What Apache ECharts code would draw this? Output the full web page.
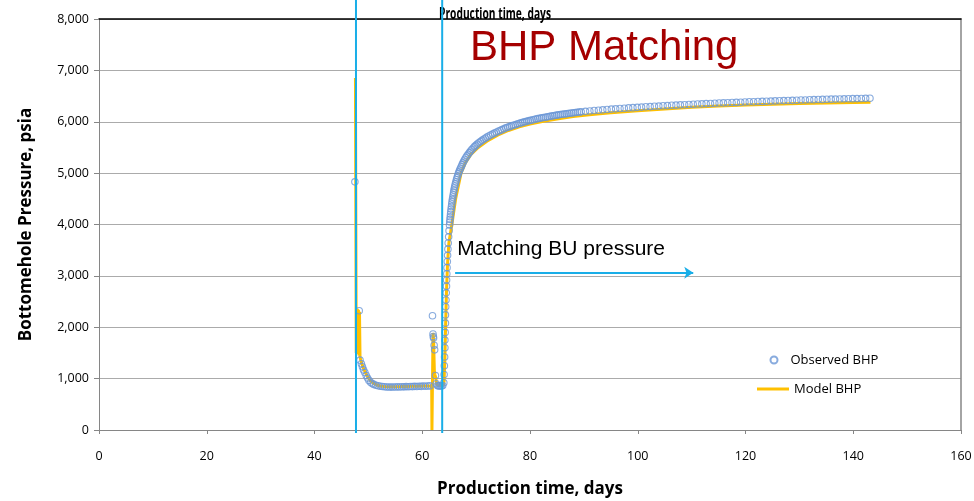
<!DOCTYPE html>
<html>
<head>
<meta charset="utf-8">
<script src="https://cdn.jsdelivr.net/npm/echarts@6/dist/echarts.min.js"></script>
<style>
  html, body { margin: 0; padding: 0; background: #fff; }
  #chart { width: 974px; height: 501px; }
</style>
</head>
<body>
<div id="chart"></div>
<script>
// Observed bottomhole pressure gauge readings (days, psia)
const obsDays = [
  47.5, 48.3, 48.45, 48.7, 48.9, 49.1, 49.35, 49.6, 49.85, 50.1, 50.4, 50.7, 51.0, 51.4, 51.8,
  52.2, 52.6, 53.0, 53.4, 53.8, 54.2, 54.6, 55.0, 55.4, 55.8, 56.2, 56.6, 57.0, 57.4, 57.8,
  58.2, 58.6, 59.0, 59.4, 59.8, 60.2, 60.6, 61.0, 61.4,
  61.9, 62.0, 62.05, 62.1, 62.2, 62.3, 62.45, 62.6, 62.8, 63.0, 63.2, 63.4, 63.6, 63.8,
  64.0, 64.05, 64.1, 64.15, 64.2, 64.2, 64.25, 64.3, 64.3, 64.35, 64.4, 64.45, 64.5, 64.52,
  64.56, 64.6, 64.65, 64.7, 64.76, 64.82, 64.9, 64.98,
  65.06, 65.1, 65.15, 65.2, 65.25, 65.3, 65.36, 65.42, 65.48, 65.54, 65.6, 65.68, 65.75,
  65.82, 65.9, 65.97, 66.05, 66.15, 66.25, 66.35, 66.45, 66.57, 66.7, 66.82, 66.95, 67.1,
  67.25, 67.4, 67.55, 67.72, 67.9, 68.1, 68.3, 68.52, 68.75, 68.97, 69.2, 69.45, 69.7,
  69.95, 70.2, 70.5, 70.8, 71.1, 71.4, 71.7, 72.0, 72.35, 72.7, 73.05, 73.4, 73.75, 74.1,
  74.45, 74.8, 75.15, 75.5, 75.85, 76.2, 76.55, 76.9, 77.25, 77.6, 77.95, 78.3, 78.65,
  79.0, 79.35, 79.7, 80.05, 80.4, 80.75, 81.1, 81.45, 81.8, 82.15, 82.5, 82.85, 83.2,
  83.55, 83.9, 84.25, 84.6, 84.95, 85.3, 85.65, 86.0, 86.35, 86.7, 87.05, 87.4, 87.75,
  88.1, 88.45, 88.8, 89.15,
  89.5, 90.3, 91.1, 91.9, 92.7, 93.5, 94.3, 95.1, 95.9, 96.7, 97.5, 98.3, 99.1, 99.9, 100.7,
  101.5, 102.3, 103.1, 103.9, 104.7, 105.5, 106.3, 107.1, 107.9, 108.7, 109.5, 110.3, 111.1,
  111.9, 112.7, 113.5, 114.3, 115.1, 115.9, 116.7, 117.5, 118.3, 119.1, 119.9, 120.7, 121.5,
  122.3, 123.1, 123.9, 124.7, 125.5, 126.3, 127.1, 127.9, 128.7, 129.5, 130.3, 131.1, 131.9,
  132.7, 133.5, 134.3, 135.1, 135.9, 136.7, 137.5, 138.3, 139.1, 139.9, 140.7, 141.5, 142.3,
  143.1
];
const obsPsi = [
  4830, 2320, 1360, 1290, 1230, 1170, 1120, 1060, 1010, 965, 930, 905, 888, 872, 860,
  852, 846, 842, 838, 836, 835, 838, 836, 840, 838, 842, 840, 845, 843, 847,
  845, 850, 848, 852, 850, 855, 853, 856, 858,
  2225, 1870, 1820, 1790, 1650, 1560, 1060, 900, 865, 858, 855, 860, 857, 865,
  920, 1080, 1250, 1420, 1600, 1750, 1900, 2080, 2240, 2400, 2530, 2670, 2800, 2920,
  3040, 3160, 3280, 3400, 3520, 3640, 3760, 3880,
  3990, 4050, 4100, 4150, 4200, 4250, 4300, 4350, 4400, 4445, 4490, 4535, 4580,
  4625, 4670, 4710, 4750, 4790, 4830, 4870, 4910, 4950, 4990, 5025, 5060, 5095,
  5130, 5165, 5200, 5235, 5270, 5303, 5335, 5368, 5400, 5430, 5460, 5488, 5515,
  5540, 5565, 5590, 5615, 5638, 5660, 5680, 5700, 5722, 5742, 5760, 5778, 5797, 5815,
  5830, 5846, 5863, 5880, 5892, 5905, 5919, 5932, 5943, 5954, 5966, 5978, 5988,
  5998, 6008, 6018, 6026, 6034, 6044, 6053, 6060, 6068, 6076, 6083, 6089, 6095,
  6103, 6110, 6115, 6121, 6128, 6134, 6140, 6146, 6150, 6154, 6160, 6166, 6171,
  6176, 6181, 6185, 6189,
  6193, 6202, 6208, 6218, 6224, 6232, 6238, 6246, 6251, 6258, 6263, 6270, 6274, 6280, 6285,
  6291, 6295, 6301, 6305, 6311, 6314, 6320, 6323, 6329, 6332, 6337, 6341, 6345,
  6348, 6353, 6356, 6361, 6364, 6368, 6370, 6375, 6377, 6381, 6384, 6388, 6390,
  6394, 6396, 6400, 6402, 6406, 6408, 6412, 6413, 6417, 6419, 6423, 6424, 6428,
  6430, 6433, 6435, 6437, 6440, 6441, 6444, 6446, 6448, 6450, 6451, 6453, 6455,
  6456
];

// Simulated (history-matched) bottomhole pressure (days, psia)
const modelDays = [
  47.6, 47.75, 47.95, 48.05, 48.15, 48.25, 48.35, 48.45, 48.6, 48.8, 49.0, 49.3, 49.6, 49.9,
  50.2, 50.6, 51.0, 51.5, 52.0, 52.5, 53.0, 54.0, 55.0, 56.0, 57.0, 58.0, 59.0, 60.0, 61.0,
  61.75, 61.8, 61.95, 62.0, 62.1, 62.25, 62.35, 62.5, 62.7, 63.0, 63.5, 63.9,
  64.05, 64.2, 64.35, 64.5, 64.7, 64.95, 65.5, 66.2, 67.2, 68.0, 69.0, 70.4, 72.0, 74.0,
  76.0, 78.0, 80.0, 82.5, 85.0, 88.0, 91.0, 95.0, 100.0, 105.0, 110.0, 115.0, 120.0,
  125.0, 130.0, 135.0, 140.0, 143.2
];
const modelPsi = [
  6850, 1500, 2360, 1480, 2340, 1450, 2300, 1420, 1360, 1290, 1225, 1150, 1085, 1030,
  985, 940, 908, 880, 862, 852, 846, 842, 843, 845, 848, 850, 852, 855, 857,
  860, 0, 0, 1890, 1760, 1150, 1080, 1020, 880, 860, 858, 870,
  950, 1400, 2100, 2700, 3250, 3650, 4000, 4500, 5000, 5200, 5360, 5500, 5620, 5740,
  5830, 5900, 5955, 6010, 6055, 6100, 6135, 6175, 6215, 6250, 6280, 6305, 6325,
  6342, 6356, 6367, 6376, 6380
];

// Shut-in / reopen event times (vertical markers)
const eventDays = [47.7, 63.7];
// Build-up annotation arrow: start day, end day, pressure level
const arrowFrom = 66.1, arrowTo = 110.3, arrowPsi = 3060;
const arrowNote = 'Matching BU pressure';
const noteDay = 66.5, notePsi = 3520;

const xTicks = { min: 0, max: 160, interval: 20 };
const yTicks = { min: 0, max: 8000, interval: 1000 };

const FONT = '"Open Sans", "Liberation Sans", sans-serif';
const ARIAL = '"Liberation Sans", Arial, sans-serif';
const CYAN = '#19aee8';

const chart = echarts.init(document.getElementById('chart'), null, { renderer: 'canvas' });

const obsData = obsDays.map((d, i) => [d, obsPsi[i]]);
const modelData = modelDays.map((d, i) => [d, modelPsi[i]]);

const fmt = v => v.toLocaleString('en-US');

chart.setOption({
  animation: false,
  backgroundColor: '#fff',
  grid: { left: 99, right: 13, top: 19, bottom: 71, containLabel: false, outerBoundsMode: 'none' },
  xAxis: [
    {
      type: 'value', position: 'bottom',
      min: xTicks.min, max: xTicks.max, interval: xTicks.interval,
      name: 'Production time, days', nameLocation: 'middle', nameGap: 51,
      nameTextStyle: { fontFamily: FONT, fontWeight: 'bold', fontSize: 17, color: '#000' },
      axisLine: { show: true, onZero: false, lineStyle: { color: '#868686', width: 1 } },
      axisTick: { show: true, length: 4, lineStyle: { color: '#868686' } },
      axisLabel: { fontFamily: FONT, fontSize: 12.5, color: '#000', margin: 20 },
      splitLine: { show: false }
    },
    {
      type: 'value', position: 'top',
      min: xTicks.min, max: xTicks.max, interval: xTicks.interval,
      axisLine: { show: true, onZero: false, lineStyle: { color: '#000', width: 1.5 } },
      axisTick: { show: false }, axisLabel: { show: false }, splitLine: { show: false }
    }
  ],
  yAxis: [
    {
      type: 'value', position: 'left',
      min: yTicks.min, max: yTicks.max, interval: yTicks.interval,
      name: 'Bottomehole Pressure, psia', nameLocation: 'middle', nameGap: 64,
      nameTextStyle: { fontFamily: FONT, fontWeight: 'bold', fontSize: 17, color: '#000' },
      axisLine: { show: true, onZero: false, lineStyle: { color: '#868686', width: 1 } },
      axisTick: { show: true, length: 5, lineStyle: { color: '#868686' } },
      axisLabel: { fontFamily: FONT, fontSize: 12.5, color: '#000', margin: 10, formatter: fmt },
      splitLine: { show: true, lineStyle: { color: '#ababab', width: 1 } }
    },
    {
      type: 'value', position: 'right',
      min: yTicks.min, max: yTicks.max, interval: yTicks.interval,
      axisLine: { show: true, onZero: false, lineStyle: { color: '#868686', width: 1.5 } },
      axisTick: { show: false }, axisLabel: { show: false }, splitLine: { show: false }
    }
  ],
  legend: [
    {
      data: ['Observed BHP'], left: 764.5, top: 348, orient: 'vertical',
      itemWidth: 7, itemHeight: 7, icon: 'circle',
      textStyle: { fontFamily: FONT, fontSize: 13, color: '#000', lineHeight: 14, padding: [0, 0, 0, 8] },
      selectedMode: false
    },
    {
      data: ['Model BHP'], left: 752, top: 377, orient: 'vertical',
      itemWidth: 32, itemHeight: 3, icon: 'rect',
      textStyle: { fontFamily: FONT, fontSize: 13, color: '#000', lineHeight: 14 },
      selectedMode: false
    }
  ],
  series: [
    {
      name: 'Model BHP', type: 'line', data: modelData,
      showSymbol: false, symbol: 'none', z: 2,
      lineStyle: { color: '#ffc000', width: 3 },
      itemStyle: { color: '#ffc000' },
      markLine: {
        silent: true, symbol: ['none', 'arrow'], symbolSize: 9,
        label: { show: false },
        lineStyle: { color: CYAN, width: 2, type: 'solid' },
        data: [[{ coord: [arrowFrom, arrowPsi] }, { coord: [arrowTo, arrowPsi] }]]
      }
    },
    {
      name: 'Observed BHP', type: 'scatter', data: obsData,
      symbol: 'circle', symbolSize: 6.5, z: 3,
      itemStyle: { color: 'rgba(255,255,255,0)', borderColor: '#6a96d6', borderWidth: 1.1 }
    }
  ]
});

// Annotations placed through the axes' own scales
function drawAnnotations() {
  const yBottom = chart.convertToPixel({ yAxisIndex: 0 }, yTicks.min);
  const elements = eventDays.map(d => {
    const x = chart.convertToPixel({ xAxisIndex: 0 }, d);
    return {
      type: 'line', silent: true, z: 10,
      shape: { x1: x, y1: 0, x2: x, y2: yBottom + 3 },
      style: { stroke: CYAN, lineWidth: 2 }
    };
  });
  const np = chart.convertToPixel({ xAxisIndex: 0, yAxisIndex: 0 }, [noteDay, notePsi]);
  elements.push({
    type: 'text', silent: true, z: 10, x: np[0], y: np[1],
    style: { text: arrowNote, font: '21px ' + ARIAL, fill: '#000', textAlign: 'left', textVerticalAlign: 'middle' }
  });
  elements.push({
    type: 'text', silent: true, z: 10, x: 470, y: 48,
    style: { text: 'BHP Matching', font: '42px ' + ARIAL, fill: '#a50000', textAlign: 'left', textVerticalAlign: 'middle' }
  });
  elements.push({
    type: 'text', silent: true, z: 1, x: 495, y: 14, scaleX: 0.64,
    style: { text: 'Production time, days', font: 'bold 16px ' + FONT, fill: '#000', textAlign: 'center', textVerticalAlign: 'middle' }
  });
  chart.setOption({ graphic: elements });
}
drawAnnotations();
</script>
</body>
</html>
